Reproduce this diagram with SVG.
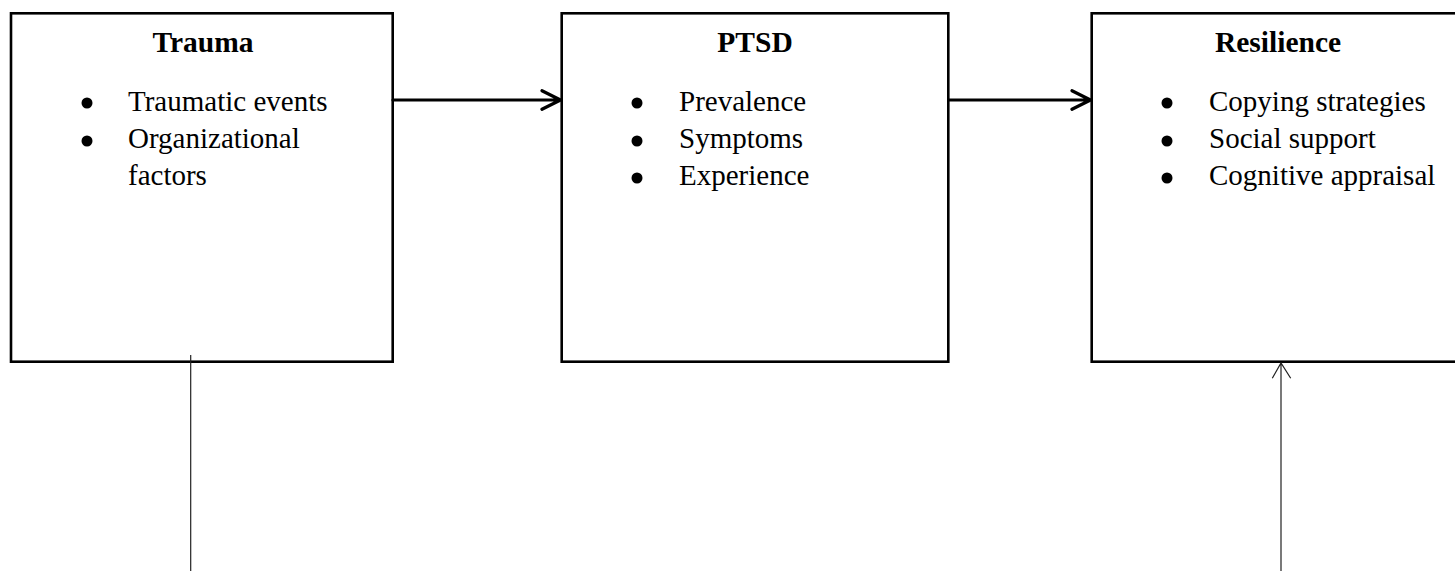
<svg xmlns="http://www.w3.org/2000/svg" width="1455" height="571" viewBox="0 0 1455 571">
<style>
.box{fill:#fff;stroke:#000;stroke-width:2.6}
.title{font-family:"Liberation Serif","Times New Roman",serif;font-size:29.5px;font-weight:bold;text-anchor:middle;fill:#000}
.item{font-family:"Liberation Serif","Times New Roman",serif;font-size:29px;fill:#000}
.bullet{fill:#000}
.thick{stroke:#000;stroke-width:3.2;fill:none;stroke-linecap:round;stroke-linejoin:round}
.thin{stroke:#222;stroke-width:1.2;fill:none}
</style>
<rect width="1455" height="571" fill="#fff"/>
<g id="trauma">
<rect class="box" x="11" y="13.3" width="381.7" height="348.4"/>
<text class="title" x="203" y="52">Trauma</text>
<circle class="bullet" cx="87" cy="103" r="5.5"/>
<text class="item" x="128" y="110.7">Traumatic events</text>
<circle class="bullet" cx="87" cy="141" r="5.5"/>
<text class="item" x="128" y="148.3">Organizational</text>
<text class="item" x="128" y="185">factors</text>
</g>
<g id="ptsd">
<rect class="box" x="561.7" y="13.3" width="386.6" height="348.4"/>
<text class="title" x="755" y="52">PTSD</text>
<circle class="bullet" cx="637" cy="103" r="5.5"/>
<text class="item" x="679" y="110.7">Prevalence</text>
<circle class="bullet" cx="637" cy="141" r="5.5"/>
<text class="item" x="679" y="148.3">Symptoms</text>
<circle class="bullet" cx="637" cy="178" r="5.5"/>
<text class="item" x="679" y="185">Experience</text>
</g>
<g id="resilience">
<rect class="box" x="1091.7" y="13.3" width="400" height="348.4"/>
<text class="title" x="1278" y="52">Resilience</text>
<circle class="bullet" cx="1167" cy="103" r="5.5"/>
<text class="item" x="1209" y="110.7">Copying strategies</text>
<circle class="bullet" cx="1167" cy="141" r="5.5"/>
<text class="item" x="1209" y="148.3">Social support</text>
<circle class="bullet" cx="1167" cy="178" r="5.5"/>
<text class="item" x="1209" y="185">Cognitive appraisal</text>
</g>
<g id="connectors">
<path class="thick" d="M393 100 H560 M542 90.7 L560.5 100 L542 109.3"/>
<path class="thick" d="M949 100 H1090 M1072 90.7 L1090.5 100 L1072 109.3"/>
<path class="thin" d="M190.7 355 V571"/>
<path class="thin" d="M1281 363 V571 M1272.3 378.3 L1281 363 L1290.7 378.3"/>
</g>
</svg>
